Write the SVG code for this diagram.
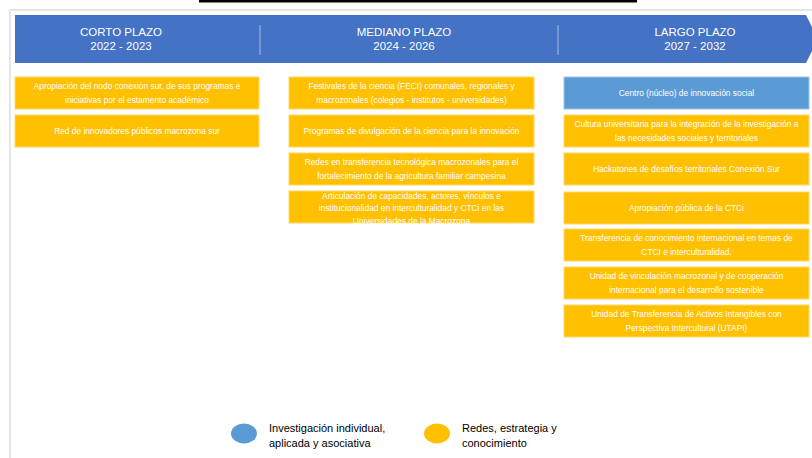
<svg xmlns="http://www.w3.org/2000/svg" width="812" height="458" viewBox="0 0 812 458">
<style>
.box{fill:#FFC000;stroke:#FFD966;stroke-width:1}
.blue{fill:#5B9BD5;stroke:#9DC3E6;stroke-width:1}
.t{font-family:"Liberation Sans",Arial,sans-serif;font-size:8.4px;fill:#FFFFFF;text-anchor:middle}
.h{font-family:"Liberation Sans",Arial,sans-serif;font-size:11.5px;fill:#FFFFFF;text-anchor:middle}
.lg{font-family:"Liberation Sans",Arial,sans-serif;font-size:11px;fill:#000000}
</style>
<rect width="812" height="458" fill="#FFFFFF"/>
<rect x="199" y="0" width="438" height="2.5" fill="#000000"/>
<g id="frame">
<rect x="9" y="9" width="803" height="2" fill="#E6E6E6"/>
<rect x="9" y="9" width="2" height="449" fill="#E6E6E6"/>
</g>
<g id="banner">
<path d="M15,15 H806 L818,39 L806,63 H15 Z" fill="#4472C4"/>
<line x1="260" y1="25" x2="260" y2="55" stroke="#A9BCE2" stroke-width="1"/>
<line x1="558" y1="25" x2="558" y2="55" stroke="#A9BCE2" stroke-width="1"/>
<text class="h" x="121" y="36">CORTO PLAZO</text>
<text class="h" x="121" y="50">2022 - 2023</text>
<text class="h" x="404" y="36">MEDIANO PLAZO</text>
<text class="h" x="404" y="50">2024 - 2026</text>
<text class="h" x="695" y="36">LARGO PLAZO</text>
<text class="h" x="695" y="50">2027 - 2032</text>
</g>
<g id="c1n1"><rect class="box" x="15" y="77" width="244" height="32"/>
<text class="t" x="137" y="89.3">Apropiación del nodo conexión sur, de sus programas e</text>
<text class="t" x="137" y="102.7">iniciativas por el estamento académico</text></g>
<g id="c1n2"><rect class="box" x="15" y="115" width="244" height="32"/>
<text class="t" x="137" y="134">Red de innovadores públicos macrozona sur</text></g>
<g id="c2n1"><rect class="box" x="289" y="77" width="245" height="32"/>
<text class="t" x="411.5" y="89.3">Festivales de la ciencia (FECI) comunales, regionales y</text>
<text class="t" x="411.5" y="102.7">macrozonales (colegios - institutos - universidades)</text></g>
<g id="c2n2"><rect class="box" x="289" y="115" width="245" height="32"/>
<text class="t" x="411.5" y="134">Programas de divulgación de la ciencia para la innovación</text></g>
<g id="c2n3"><rect class="box" x="289" y="153" width="245" height="32"/>
<text class="t" x="411.5" y="165.3">Redes en transferencia tecnológica macrozonales para el</text>
<text class="t" x="411.5" y="178.7">fortalecimiento de la agricultura familiar campesina</text></g>
<g id="c2n4"><rect class="box" x="289" y="191" width="245" height="32"/>
<text class="t" x="411.5" y="198.5">Articulación de capacidades, actores, vínculos e</text>
<text class="t" x="411.5" y="211">institucionalidad en interculturalidad y CTCi en las</text>
<text class="t" x="411.5" y="223.5">Universidades de la Macrozona</text></g>
<g id="c3n1"><rect class="blue" x="564" y="77" width="245" height="32"/>
<text class="t" x="686.5" y="96">Centro (núcleo) de innovación social</text></g>
<g id="c3n2"><rect class="box" x="564" y="115" width="245" height="32"/>
<text class="t" x="686.5" y="127.3">Cultura universitaria para la integración de la investigación a</text>
<text class="t" x="686.5" y="140.7">las necesidades sociales y territoriales</text></g>
<g id="c3n3"><rect class="box" x="564" y="153" width="245" height="32"/>
<text class="t" x="686.5" y="172">Hackatones de desafíos territoriales Conexión Sur</text></g>
<g id="c3n4"><rect class="box" x="564" y="192" width="245" height="32"/>
<text class="t" x="686.5" y="211">Apropiación pública de la CTCi</text></g>
<g id="c3n5"><rect class="box" x="564" y="229" width="245" height="32"/>
<text class="t" x="686.5" y="241.3">Transferencia de conocimiento internacional en temas de</text>
<text class="t" x="686.5" y="254.7">CTCI e interculturalidad.</text></g>
<g id="c3n6"><rect class="box" x="564" y="267" width="245" height="32"/>
<text class="t" x="686.5" y="279.3">Unidad de vinculación macrozonal y de cooperación</text>
<text class="t" x="686.5" y="292.7">internacional para el desarrollo sostenible</text></g>
<g id="c3n7"><rect class="box" x="564" y="305" width="245" height="32"/>
<text class="t" x="686.5" y="317.3">Unidad de Transferencia de Activos Intangibles con</text>
<text class="t" x="686.5" y="330.7">Perspectiva Intercultural (UTAPI)</text></g>
<g id="legend">
<ellipse cx="244" cy="433.5" rx="13" ry="10" fill="#5B9BD5"/>
<text class="lg" x="269" y="431.5">Investigación individual,</text>
<text class="lg" x="269" y="446.5">aplicada y asociativa</text>
<ellipse cx="437" cy="433.5" rx="13" ry="10" fill="#FFC000"/>
<text class="lg" x="462" y="431.5">Redes, estrategia y</text>
<text class="lg" x="462" y="446.5">conocimiento</text>
</g>
<g id="connectors"></g>
</svg>
